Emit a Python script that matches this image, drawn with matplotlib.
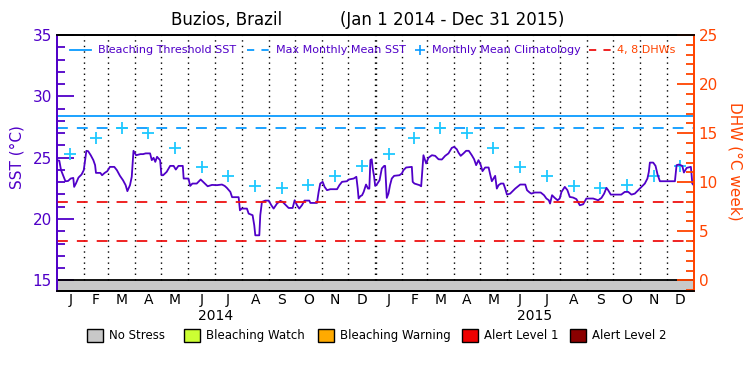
import numpy as np
import matplotlib
matplotlib.use('Agg')
import matplotlib.pyplot as plt
from matplotlib.lines import Line2D
from matplotlib.patches import Rectangle
from matplotlib.ticker import MultipleLocator

# daily SST (days since Jan 1 2014)
days = [0, 3, 5, 8, 10, 13, 16, 19, 20, 22, 25, 28.5, 31, 34, 36, 39, 42, 44, 45, 50,
        52, 55, 58, 61, 66, 69, 72.5, 76, 79, 81, 84, 86, 88, 91, 96, 99, 102, 107, 109, 111,
        113, 115, 118.5, 120, 122, 126, 130, 134, 136.5, 139.5, 144.5, 145.5, 151, 153, 155.5, 160.5, 165, 169, 173, 178,
        183.7, 189.4, 192.5, 195, 199, 201, 208.5, 210, 212, 218, 220, 224.5, 226.4, 227.6, 232.2, 233.3, 235.2, 239, 243, 246,
        248.6, 252.5, 256.3, 259, 262, 265.8, 270.4, 272.7, 275.4, 278, 281, 284, 289.5, 290.7, 298.3, 300.2, 302, 304.8, 307, 309.8,
        313.6, 321.3, 324, 327, 332.7, 334.6, 340.4, 343.4, 345, 346, 348, 350, 351.8, 354.5, 356.8, 358.3, 359.5, 361, 362.2, 363.8,
        365, 366.8, 370, 372.6, 375.3, 376.4, 377.2, 378.3, 380.2, 382, 384, 386.7, 392.8, 395.5, 397.4, 400.5, 407, 408, 410, 415.8,
        417.7, 420.3, 422.2, 423.4, 426, 430, 433.7, 437.6, 441.4, 445.2, 449, 452.8, 455.5, 458.5, 460.4, 463, 466.2, 469.2, 472.3, 475.7,
        478.4, 480.7, 483.4, 486, 488, 491, 495, 496.8, 498.7, 502.5, 504.4, 506.4, 509, 512, 514, 516, 519.7, 525.5, 531.2, 537,
        539, 542, 544, 547.8, 554.7, 558.5, 561.2, 564, 565.4, 567.7, 570.8, 574, 576.5, 578.5, 582.3, 585.3, 588, 591.8, 595.6, 599.5,
        603.3, 607, 614.8, 620.5, 624.3, 627.4, 630, 632, 635, 647, 651, 655, 658.7, 662.5, 666.4, 670.2, 674, 677, 678.6, 679.8,
        683.6, 686.3, 688.6, 691.3, 708.5, 710.4, 713, 717, 718.8, 722, 726.8, 727.6, 728.4, 730]
sst = [24.8, 24.75, 23.98, 23.44, 23.08, 23.1, 23.3, 23.35, 22.62, 22.89, 23.38, 23.63, 23.98, 25.56, 25.53, 25.2, 24.8, 24.39, 23.76, 23.76,
       23.57, 23.76, 23.9, 24.25, 24.25, 23.98, 23.52, 23.16, 22.76, 22.27, 22.76, 23.44, 25.56, 25.2, 25.29, 25.29, 25.35, 25.35, 24.8, 24.99,
       24.66, 25.07, 24.8, 23.57, 23.57, 23.84, 24.33, 24.33, 24.03, 24.33, 24.33, 23.3, 23.3, 22.7, 22.89, 22.89, 23.22, 22.94, 22.67, 22.78,
       22.76, 22.81, 22.7, 22.54, 22.21, 21.78, 21.78, 20.71, 20.85, 20.85, 20.44, 20.31, 19.49, 18.67, 18.67, 20.31, 21.39, 21.5, 21.5, 21.12,
       20.85, 21.26, 21.48, 21.39, 21.17, 20.9, 20.9, 21.53, 21.12, 20.85, 21.12, 21.5, 21.5, 21.31, 21.31, 22.21, 22.89, 23.03, 22.62, 22.35,
       22.43, 22.43, 22.76, 23.03, 23.08, 23.22, 23.3, 23.44, 22.48, 21.67, 21.86, 21.94, 22.21, 22.81, 22.48, 22.48, 24.8, 24.87, 24.12, 23.44,
       22.7, 22.81, 23.16, 24.12, 24.33, 24.33, 23.3, 21.72, 22.07, 22.76, 23.3, 23.52, 23.57, 23.71, 23.98, 24.2, 24.25, 23.03, 22.89, 22.76,
       22.67, 25.2, 24.8, 24.53, 24.99, 25.2, 25.15, 24.87, 24.85, 25.15, 25.35, 25.8, 25.88, 25.69, 25.42, 25.15, 25.35, 25.56, 25.56, 25.2,
       24.87, 24.39, 24.8, 24.39, 23.9, 24.2, 24.2, 23.63, 23.08, 23.52, 22.48, 22.76, 22.89, 22.89, 22.48, 21.99, 22.07, 22.48, 22.81, 22.81,
       22.35, 22.16, 22.07, 22.16, 22.16, 21.94, 21.67, 21.53, 21.26, 21.94, 21.72, 21.53, 21.67, 22.21, 22.62, 22.35, 21.8, 21.75, 21.62, 21.12,
       21.2, 21.67, 21.67, 21.53, 21.72, 22.07, 22.54, 22.35, 21.99, 21.99, 22.21, 22.21, 21.99, 22.07, 22.35, 22.62, 22.89, 23.3, 23.84, 24.6,
       24.6, 24.33, 23.63, 23.08, 23.08, 24.39, 24.44, 24.33, 23.79, 24.17, 24.25, 23.63, 22.89, 22.76]

# monthly mean climatology Jan..Dec
clim = [25.3, 26.6, 27.4, 27.0, 25.75, 24.2, 23.5, 22.7, 22.55, 22.75, 23.5, 24.3]
mmm = 27.4
threshold = 28.4
dhw_levels = [4, 8]
month_letters = ['J', 'F', 'M', 'A', 'M', 'J', 'J', 'A', 'S', 'O', 'N', 'D']
years = ['2014', '2015']

stress_names = ['No Stress', 'Bleaching Watch', 'Bleaching Warning', 'Alert Level 1', 'Alert Level 2']
stress_colors = ['#C8C8C8', '#CCFF33', '#FFAA00', '#EE0000', '#8B0000']

purple = '#5000C8'
orange = '#FF4400'
blue = '#0A9BFF'
cyan = '#1EC8FF'
red = '#EE1111'

ymin = 14.17

fig = plt.figure(figsize=(7.5, 3.75), dpi=100)
ax = fig.add_axes([0.0756, 0.2253, 0.8493, 0.6813])
ax.set_xlim(0, 730)
ax.set_ylim(ymin, 35)

# month boundaries
month_starts = np.arange('2014-01', '2016-02', dtype='datetime64[M]').astype('datetime64[D]')
month_days = (month_starts - np.datetime64('2014-01-01')).astype(float)
mids = (month_days[:-1] + month_days[1:]) / 2

ax.vlines(month_days[1:-1], 15, 35, colors='k', linestyles=(0, (1, 3)), lw=1)
ax.vlines([365.6], 15, 35, colors='k', linestyles=(0, (1, 3)), lw=1)

ax.axhline(threshold, color=blue, lw=1.3)
ax.axhline(mmm, color=blue, lw=1.3, dashes=(6, 5))

ax.plot(mids, np.tile(clim, 2), '+', color=cyan, ms=8, mew=1.3)
ax.plot(days, sst, color=purple, lw=1.3)

ax.axhspan(ymin, 15, color='#C8C8C8', lw=0)
ax.axhline(15, color='k', lw=1.3)

# right axis (DHW)
ax2 = ax.twinx()
ax2.set_ylim((ymin - 15) * 1.25, 25)
for lev in dhw_levels:
    ax2.axhline(lev, color=red, lw=1.3, dashes=(6, 5))

# spines
for a in (ax, ax2):
    a.spines['top'].set_color('k')
    a.spines['bottom'].set_color('k')
    a.spines['left'].set_color(purple)
    a.spines['right'].set_color(orange)
    for s in a.spines.values():
        s.set_linewidth(1.3)

ax.yaxis.set_major_locator(MultipleLocator(5))
ax.yaxis.set_minor_locator(MultipleLocator(1))
ax.tick_params(axis='y', which='both', direction='in', color=purple, labelcolor=purple,
               labelsize=11, width=1.3)
ax.tick_params(axis='y', which='major', length=12)
ax.tick_params(axis='y', which='minor', length=6)

ax2.yaxis.set_major_locator(MultipleLocator(5))
ax2.yaxis.set_minor_locator(MultipleLocator(1))
ax2.tick_params(axis='y', which='both', direction='in', color=orange, labelcolor=orange,
                labelsize=11, width=1.3)
ax2.tick_params(axis='y', which='major', length=12)
ax2.tick_params(axis='y', which='minor', length=6)

ax.set_xticks(mids)
ax.set_xticklabels(month_letters * 2)
ax.tick_params(axis='x', length=0, labelsize=10, pad=2)
for i, yr in enumerate(years):
    ax.text(month_days[12 * i] + 182.5, -0.1, yr, transform=ax.get_xaxis_transform(),
            ha='center', va='center', fontsize=10)

# titles and axis labels
fig.text(227 / 750, 1 - 20 / 375, 'Buzios, Brazil', ha='center', va='center', fontsize=12)
fig.text(452 / 750, 1 - 20 / 375, '(Jan 1 2014 - Dec 31 2015)', ha='center', va='center', fontsize=12)
fig.text(17 / 750, 1 - 157 / 375, 'SST (°C)', rotation=90, color=purple,
         ha='center', va='center', fontsize=11)
fig.text(735 / 750, 1 - 161 / 375, 'DHW (°C week)', rotation=270, color=orange,
         ha='center', va='center', fontsize=11)

# legend inside plot
ly = 1 - 50 / 375
fs = 8
fig.add_artist(Line2D([70 / 750, 91 / 750], [ly, ly], color=blue, lw=1.3))
fig.text(98 / 750, ly, 'Bleaching Threshold SST', color=purple, va='center', fontsize=fs)
fig.add_artist(Line2D([247 / 750, 269 / 750], [ly, ly], color=blue, lw=1.3, dashes=(4, 4)))
fig.text(276 / 750, ly, 'Max Monthly Mean SST', color=purple, va='center', fontsize=fs)
fig.add_artist(Line2D([420 / 750], [ly], color=blue, marker='+', ms=7, mew=1.2, ls='none'))
fig.text(432 / 750, ly, 'Monthly Mean Climatology', color=purple, va='center', fontsize=fs)
fig.add_artist(Line2D([589 / 750, 611 / 750], [ly, ly], color=red, lw=1.3, dashes=(4, 4)))
fig.text(617 / 750, ly, '4, 8 DHWs', color=orange, va='center', fontsize=fs)

# stress level legend
box_x = [87, 184, 318, 462, 570]
by = 1 - 342 / 375
for bx, name, col in zip(box_x, stress_names, stress_colors):
    fig.add_artist(Rectangle((bx / 750, by), 16 / 750, 13 / 375, facecolor=col,
                             edgecolor='k', lw=1, transform=fig.transFigure))
    fig.text((bx + 22) / 750, by + 6.5 / 375, name, va='center', fontsize=8.5)

fig.savefig('out.png', dpi=100)
